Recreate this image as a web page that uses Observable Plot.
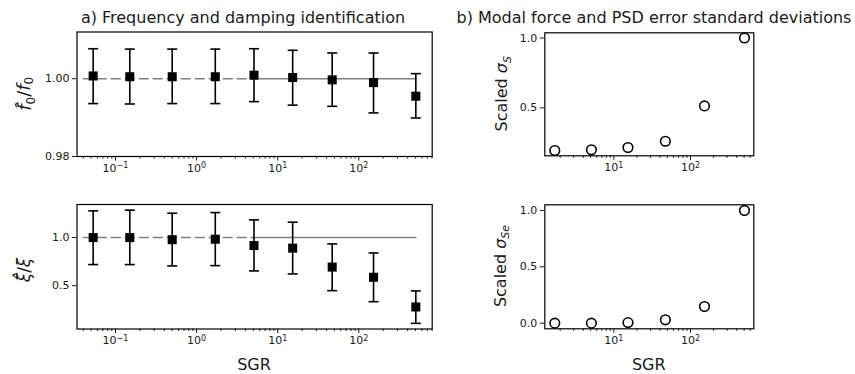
<!DOCTYPE html>
<html><head><meta charset="utf-8">
<script src="https://cdn.jsdelivr.net/npm/d3@7"></script>
<script src="https://cdn.jsdelivr.net/npm/@observablehq/plot@0.6"></script>
<style>
body{margin:0;background:#fff;}
#chart{position:relative;width:855px;height:374px;font-family:"DejaVu Sans",sans-serif;overflow:hidden;}
#chart svg{position:absolute;overflow:visible;}
</style></head><body><div id="chart"></div>
<script>
// ---- data ----
const sgr = [0.053, 0.15, 0.5, 1.7, 5.1, 15.3, 47, 152, 505];
const freqRatio = [1.0007, 1.0005, 1.0005, 1.0005, 1.0009, 1.0003, 0.9997, 0.999, 0.9955];
const freqUpper = [1.0077, 1.0076, 1.0076, 1.0076, 1.0077, 1.0073, 1.0066, 1.0066, 1.0013];
const freqLower = [0.9936, 0.9935, 0.9936, 0.9936, 0.9941, 0.9932, 0.9929, 0.9912, 0.9899];
const dampRatio = [1.0, 1.0, 0.978, 0.983, 0.917, 0.89, 0.693, 0.587, 0.278];
const dampUpper = [1.278, 1.285, 1.253, 1.26, 1.184, 1.16, 0.934, 0.84, 0.445];
const dampLower = [0.719, 0.719, 0.705, 0.708, 0.653, 0.622, 0.448, 0.333, 0.108];
const sgrRight = [1.7, 5.1, 15.3, 47, 152, 505];
const sigmaS = [0.195, 0.2, 0.216, 0.261, 0.514, 1.0];
const sigmaSe = [0.0, 0.0, 0.005, 0.03, 0.148, 1.0];
const refLevel = 1;
const refDashX = [0.04, 5.1];
const refSolidX = [5.1, 505];
const majorTicks = [0.1, 1, 10, 100];
const yTicksFreq = [0.98, 1.00];
const yTicksDamp = [0.5, 1.0];
const yTicksS = [0.5, 1.0];
const yTicksSe = [0.0, 0.5, 1.0];
const titleA = "a) Frequency and damping identification";
const titleB = "b) Modal force and PSD error standard deviations";
const xLabel = "SGR";

// ---- helpers ----
const FONT = '"DejaVu Sans", sans-serif';
const expOf = v => String(Math.round(Math.log10(v))).replace("-", "\u2212");
function minorTicksFor([a, b]) {
  const out = [];
  for (let e = -3; e <= 3; e++) for (let m = 2; m <= 9; m++) {
    const v = +(m * 10 ** e).toPrecision(6);
    if (v >= a && v <= b) out.push(v);
  }
  return out;
}
const cap = {draw(ctx, size) { const h = Math.sqrt(size / Math.PI); ctx.moveTo(-h, 0); ctx.lineTo(h, 0); }};

function panel({left, top, width, height, m, xDomain, yDomain, yTicks, yFormat, marks}) {
  const svg = Plot.plot({
    width, height,
    marginLeft: m[0], marginTop: m[1], marginRight: m[2], marginBottom: m[3],
    x: {type: "log", domain: xDomain},
    y: {domain: yDomain},
    style: {fontFamily: FONT, fontSize: "11px", color: "#1a1a1a", background: "transparent", overflow: "visible"},
    marks: [
      ...marks,
      Plot.frame({stroke: "#000", strokeWidth: 1.2}),
      Plot.axisX({ticks: minorTicksFor(xDomain), tickSize: 2.5, fill: "none", label: null}),
      Plot.axisX({ticks: majorTicks.filter(v => v >= xDomain[0] && v <= xDomain[1]), tickFormat: v => "10^" + expOf(v), tickSize: 4.5, tickPadding: 3, label: null}),
      Plot.axisY({ticks: yTicks, tickFormat: yFormat, tickSize: 4.5, tickPadding: 3, label: null})
    ]
  });
  svg.style.left = left + "px";
  svg.style.top = top + "px";
  document.getElementById("chart").appendChild(svg);
  const sel = d3.select(svg);
  // render 10^k labels as base + raised exponent
  sel.selectAll("text").each(function() {
    const s = this.textContent;
    if (!s.startsWith("10^")) return;
    const ex = s.slice(3);
    const t = d3.select(this);
    t.text(null);
    t.append("tspan").text("10");
    t.append("tspan").attr("dy", "-0.42em").attr("font-size", "8px").text(ex);
  });
  return sel;
}

function errorMarks(xs, ys, lo, hi) {
  const rows = xs.map((x, i) => ({x, y: ys[i], lo: lo[i], hi: hi[i]}));
  return [
    Plot.line(refDashX, {x: d => d, y: () => refLevel, stroke: "#808080", strokeWidth: 1.6, strokeDasharray: "9,5"}),
    Plot.line(refSolidX, {x: d => d, y: () => refLevel, stroke: "#808080", strokeWidth: 1.6}),
    Plot.ruleX(rows, {x: "x", y1: "lo", y2: "hi", stroke: "#000", strokeWidth: 1.6}),
    Plot.dot(rows, {x: "x", y: "hi", symbol: cap, r: 5, stroke: "#000", strokeWidth: 1.6, fill: "none"}),
    Plot.dot(rows, {x: "x", y: "lo", symbol: cap, r: 5, stroke: "#000", strokeWidth: 1.6, fill: "none"}),
    Plot.dot(rows, {x: "x", y: "y", symbol: "square", r: 5.1, fill: "#000", stroke: "none"})
  ];
}
function circleMarks(xs, ys) {
  const rows = xs.map((x, i) => ({x, y: ys[i]}));
  return [Plot.dot(rows, {x: "x", y: "y", r: 4.8, stroke: "#000", strokeWidth: 1.6, fill: "#fff"})];
}

function yLabel(sel, cx, cy, parts, size = 16) {
  const t = sel.append("text")
    .attr("transform", `translate(${cx + 0.35 * size},${cy}) rotate(-90)`)
    .attr("text-anchor", "middle")
    .attr("font-family", FONT).attr("font-size", size).attr("fill", "#1a1a1a");
  parts.forEach(p => {
    const s = t.append("tspan").text(p.t);
    if (p.i) s.attr("font-style", "italic");
    if (p.dy) s.attr("dy", p.dy);
    if (p.fs) s.attr("font-size", p.fs);
  });
}
function plainText(sel, x, y, txt, size) {
  sel.append("text").attr("x", x).attr("y", y).attr("text-anchor", "middle")
    .attr("font-family", FONT).attr("font-size", size).attr("fill", "#1a1a1a").text(txt);
}

const leftDomain = [0.0335, 804];
const rightDomain = [1.26, 668];

// top-left
const tl = panel({left: 0, top: 0, width: 440, height: 180, m: [76.5, 31.5, 8.3, 24],
  xDomain: leftDomain, yDomain: [0.98, 1.012], yTicks: yTicksFreq, yFormat: ".2f",
  marks: errorMarks(sgr, freqRatio, freqLower, freqUpper)});
plainText(tl, 243, 22.5, titleA, 16);
yLabel(tl, 25, 93.8, [{t: "f\u0302", i: true}, {t: "0", fs: 12, dy: "0.3em"}, {t: "/", dy: "-0.3em"}, {t: "f", i: true}, {t: "0", fs: 12, dy: "0.3em"}], 18);

// bottom-left
const bl = panel({left: 0, top: 180, width: 440, height: 194, m: [76.5, 24, 8.3, 45.5],
  xDomain: leftDomain, yDomain: [0.049, 1.344], yTicks: yTicksDamp, yFormat: ".1f",
  marks: errorMarks(sgr, dampRatio, dampLower, dampUpper)});
yLabel(bl, 24, 90, [{t: "\u03BE\u0302", i: true}, {t: "/"}, {t: "\u03BE", i: true}], 17);
plainText(bl, 254, 190, xLabel, 16);

// top-right
const tr = panel({left: 440, top: 0, width: 415, height: 180, m: [104.3, 32.3, 101.7, 24.7],
  xDomain: rightDomain, yDomain: [0.157, 1.037], yTicks: yTicksS, yFormat: ".1f",
  marks: circleMarks(sgrRight, sigmaS)});
plainText(tr, 214, 22.5, titleB, 16);
yLabel(tr, 61.7, 93.8, [{t: "Scaled "}, {t: "\u03C3", i: true}, {t: "S", i: true, fs: 11, dy: "0.3em"}]);

// bottom-right
const br = panel({left: 440, top: 180, width: 415, height: 194, m: [104.3, 24.3, 101.7, 45.7],
  xDomain: rightDomain, yDomain: [-0.05, 1.05], yTicks: yTicksSe, yFormat: ".1f",
  marks: circleMarks(sgrRight, sigmaSe)});
yLabel(br, 60, 86, [{t: "Scaled "}, {t: "\u03C3", i: true}, {t: "Se", i: true, fs: 11, dy: "0.3em"}]);
plainText(br, 208.8, 190, xLabel, 16);
</script></body></html>
